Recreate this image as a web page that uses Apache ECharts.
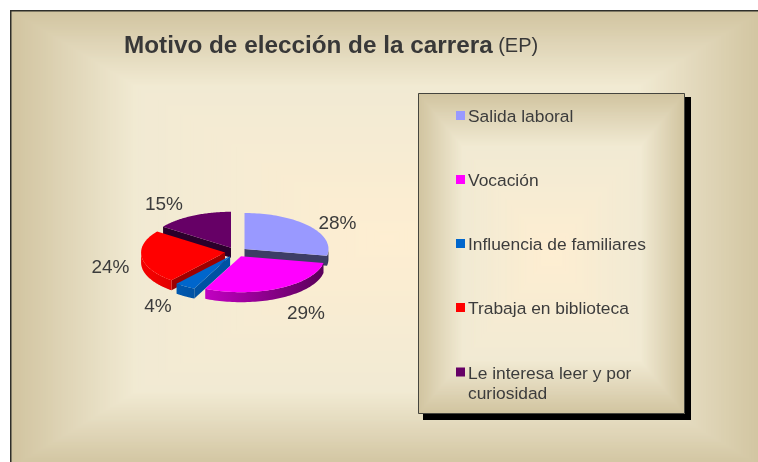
<!DOCTYPE html>
<html>
<head>
<meta charset="utf-8">
<style>
html, body { margin: 0; background: #fff; }
#main { width: 758px; height: 462px; }
</style>
<script src="https://cdn.jsdelivr.net/npm/echarts@6/dist/echarts.min.js"></script>
</head>
<body>
<div id="main"></div>
<script>
var categories = ['Salida laboral', 'Vocación', 'Influencia de familiares', 'Trabaja en biblioteca', 'Le interesa leer y por curiosidad'];
var values = [28, 29, 4, 24, 15];
var colors = ['#9999ff', '#ff00ff', '#0066cc', '#ff0000', '#660066'];

// layout of the tilted pie
var cx = 236, cy = 252, rx = 84, ry = 36, depth = 10, explode = 11;
var cutShade = [0.4, 0.4, 0.8, 0.62, 0.42];
var labelPos = [[337.5, 223.5], [306, 313.5], [158, 306.5], [110.5, 267.5], [164, 204.5]];
var textColor = '#3c3c3c';
var font = '"Liberation Sans", Arial, sans-serif';

var total = values.reduce(function (a, b) { return a + b; }, 0);

function mix(c, f) {
    var n = parseInt(c.slice(1), 16);
    return 'rgb(' + Math.round((n >> 16) * f) + ',' + Math.round(((n >> 8) & 255) * f) + ',' + Math.round((n & 255) * f) + ')';
}

function pt(ox, oy, a, h) {
    return [ox + rx * Math.sin(a), oy - ry * Math.cos(a) + (h || 0)];
}

function sliceItem(idx) {
    var before = values.slice(0, idx).reduce(function (a, b) { return a + b; }, 0);
    var a0 = before / total * Math.PI * 2;
    var a1 = (before + values[idx]) / total * Math.PI * 2;
    var mid = (a0 + a1) / 2;
    var ox = cx + explode * Math.sin(mid);
    var oy = cy - explode * ry / rx * Math.cos(mid);
    var c = colors[idx];
    var kids = [];
    var i, n = 60;

    // radial cut faces, only those turned to the viewer
    if (Math.sin(a0) < 0) {
        kids.push({ type: 'polygon', shape: { points: [[ox, oy], pt(ox, oy, a0), pt(ox, oy, a0, depth), [ox, oy + depth]] }, style: { fill: mix(c, cutShade[idx]) } });
    }
    if (Math.sin(a1) > 0) {
        kids.push({ type: 'polygon', shape: { points: [[ox, oy], pt(ox, oy, a1), pt(ox, oy, a1, depth), [ox, oy + depth]] }, style: { fill: mix(c, cutShade[idx]) } });
    }

    // rim, front half only
    var s0 = Math.max(a0, Math.PI / 2), s1 = Math.min(a1, Math.PI * 1.5);
    if (s1 > s0) {
        var rim = [];
        for (i = 0; i <= n; i++) rim.push(pt(ox, oy, s0 + (s1 - s0) * i / n));
        for (i = n; i >= 0; i--) rim.push(pt(ox, oy, s0 + (s1 - s0) * i / n, depth));
        kids.push({
            type: 'polygon',
            shape: { points: rim },
            style: {
                fill: {
                    type: 'linear', global: true, x: cx - rx, y: 0, x2: cx + rx, y2: 0,
                    colorStops: [{ offset: 0, color: mix(c, 0.95) }, { offset: 1, color: mix(c, 0.36) }]
                }
            }
        });
    }

    // top face
    var top = [[ox, oy]];
    for (i = 0; i <= n; i++) top.push(pt(ox, oy, a0 + (a1 - a0) * i / n));
    kids.push({ type: 'polygon', shape: { points: top }, style: { fill: c } });

    kids.push({
        type: 'text',
        style: {
            x: labelPos[idx][0], y: labelPos[idx][1],
            text: values[idx] + '%',
            fill: textColor, font: '19px ' + font,
            align: 'center', verticalAlign: 'middle'
        }
    });
    return { type: 'group', children: kids };
}

// rectangular fill made of nested frames, edge to centre
function panel(x, y, w, h, z) {
    var out = [];
    var stops = [[0, [209, 196, 160]], [0.33, [241, 234, 211]], [1, [254, 238, 210]]];
    var steps = 150;
    for (var i = 0; i < steps; i++) {
        var t = i / steps, k = t > stops[1][0] ? 1 : 0;
        var u = (t - stops[k][0]) / (stops[k + 1][0] - stops[k][0]);
        var col = [0, 1, 2].map(function (j) {
            return Math.round(stops[k][1][j] + (stops[k + 1][1][j] - stops[k][1][j]) * u);
        });
        out.push({
            type: 'rect', silent: true, z: z,
            shape: { x: x + t * w / 2, y: y + t * h / 2, width: w * (1 - t), height: h * (1 - t) },
            style: { fill: 'rgb(' + col.join(',') + ')' }
        });
    }
    return out;
}

function outline(x, y, w, h, z, color, lw) {
    return { type: 'rect', silent: true, z: z, shape: { x: x + lw / 2, y: y + lw / 2, width: w - lw, height: h - lw }, style: { fill: 'none', stroke: color, lineWidth: lw } };
}

// the outer panel runs past the right and bottom of the picture
var backdrop = panel(10, 10, 754, 458, -5)
    .concat([outline(10, 10, 780, 480, -4, '#2e2e2a', 1.5)])
    .concat([{ type: 'rect', silent: true, z: -3, shape: { x: 423, y: 97, width: 268, height: 323 }, style: { fill: '#000' } }])
    .concat(panel(418, 93, 267, 321, -2))
    .concat([outline(418, 93, 267, 321, -1, '#45453e', 1)]);

var drawOrder = [4, 0, 3, 2, 1];

var series = categories.map(function (name, idx) {
    return {
        name: name,
        type: 'custom',
        coordinateSystem: 'none',
        z: 2 + drawOrder.indexOf(idx),
        silent: true,
        animation: false,
        itemStyle: { color: colors[idx] },
        data: [values[idx]],
        renderItem: function () { return sliceItem(idx); }
    };
});

function legendItem(idx) {
    return { name: categories[idx], itemStyle: { color: colors[idx], borderColor: colors[idx], borderWidth: 4 } };
}

// small box plus a thick border: keeps the 9px swatch but brings the text closer
var legendBase = {
    orient: 'vertical', left: 456, padding: 0,
    itemWidth: 5, itemHeight: 5,
    selectedMode: false, icon: 'rect',
    textStyle: {
        rich: {
            t: { color: textColor, fontSize: 17.4, fontFamily: font, lineHeight: 20 },
            p: { color: textColor, fontSize: 17.4, fontFamily: font, lineHeight: 20, padding: [4, 0, 0, 0] },
            blank: { fontSize: 12, lineHeight: 24 }
        }
    }
};

var option = {
    animation: false,
    title: {
        left: 124, top: 34, padding: 0,
        text: '{b|Motivo de elección de la carrera}{n| (EP)}',
        textStyle: {
            rich: {
                b: { fontFamily: font, fontSize: 24.3, fontWeight: 'bold', color: '#383838' },
                n: { fontFamily: font, fontSize: 20, fontWeight: 'normal', color: '#383838' }
            }
        }
    },
    legend: [
        echarts.util.extend({
            top: 105, itemGap: 43,
            formatter: function (name) { return '{p|' + name + '}'; },
            data: [0, 1, 2, 3].map(legendItem)
        }, legendBase),
        // blank first line puts the swatch level with the first text line
        echarts.util.extend({
            top: 346,
            formatter: function (name) {
                return '{blank| }\n{t|' + name.replace(' curiosidad', '}\n{t|curiosidad') + '}';
            },
            data: [legendItem(4)]
        }, legendBase)
    ],
    graphic: { elements: backdrop },
    series: series
};

var chart = echarts.init(document.getElementById('main'), null, { renderer: 'canvas' });
chart.setOption(option);
</script>
</body>
</html>
